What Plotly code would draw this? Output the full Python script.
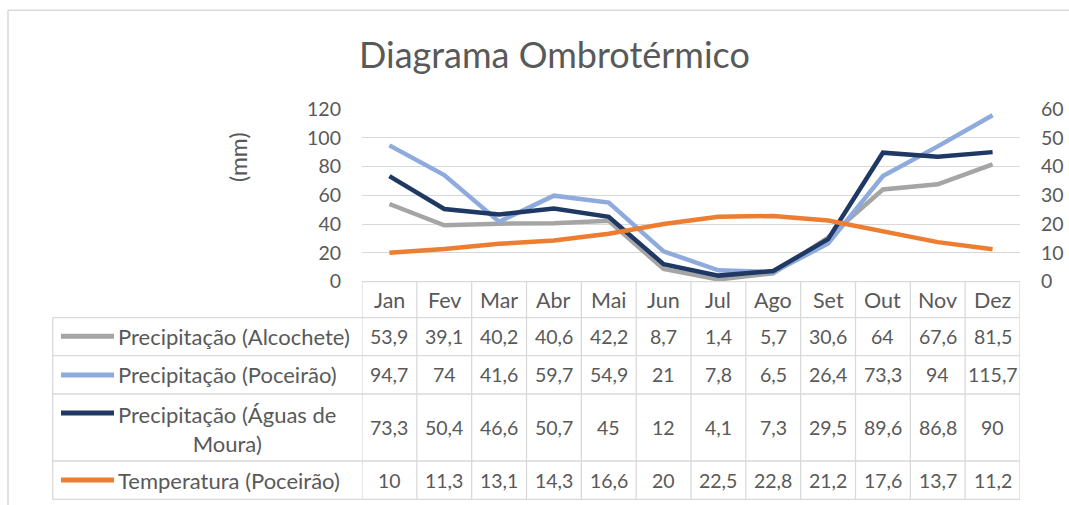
import plotly.graph_objects as go

months = ["Jan", "Fev", "Mar", "Abr", "Mai", "Jun", "Jul", "Ago", "Set", "Out", "Nov", "Dez"]
prec_alcochete = [53.9, 39.1, 40.2, 40.6, 42.2, 8.7, 1.4, 5.7, 30.6, 64, 67.6, 81.5]
prec_poceirao = [94.7, 74, 41.6, 59.7, 54.9, 21, 7.8, 6.5, 26.4, 73.3, 94, 115.7]
prec_aguas = [73.3, 50.4, 46.6, 50.7, 45, 12, 4.1, 7.3, 29.5, 89.6, 86.8, 90]
temp_poceirao = [10, 11.3, 13.1, 14.3, 16.6, 20, 22.5, 22.8, 21.2, 17.6, 13.7, 11.2]

series_names = ["Precipitação (Alcochete)", "Precipitação (Poceirão)",
                "Precipitação (Águas de<br>Moura)", "Temperatura (Poceirão)"]
series_values = [prec_alcochete, prec_poceirao, prec_aguas, temp_poceirao]
series_colors = ["#a5a5a5", "#8faadc", "#203864", "#ed7d31"]
series_axes = ["y", "y", "y", "y2"]

OFF = 0
W, H = 1069, 505
FONT = "Lato"
TXT = "#595959"
GRID = "#d9d9d9"
NUM_SIZE = 19.5
LBL_SIZE = 22


def fx(px):
    return (px - OFF) / W


def fy(py):
    return 1 - (py - OFF) / H


def fmt(v):
    return ("%g" % v).replace(".", ",")


plot_left, plot_right = 362, 1020
plot_top, plot_bottom = 109, 281.5

fig = go.Figure()
for name, vals, col, ax in zip(series_names, series_values, series_colors, series_axes):
    fig.add_trace(go.Scatter(x=months, y=vals, mode="lines", name=name.replace("<br>", " "),
                             line=dict(color=col, width=4.5), yaxis=ax, showlegend=False))

shapes = []
annotations = []

# chart border (top and left edges visible)
shapes.append(dict(type="line", xref="paper", yref="paper", x0=fx(8), x1=fx(1100),
                   y0=fy(10.3), y1=fy(10.3), line=dict(color=GRID, width=1.5)))
shapes.append(dict(type="line", xref="paper", yref="paper", x0=fx(8), x1=fx(8),
                   y0=fy(10.3), y1=fy(540), line=dict(color=GRID, width=1.5)))

# table geometry
row_edges = [281.7, 317.7, 355.7, 394, 461, 499.3]
table_left = 52.7
tb = dict(color=GRID, width=1.3)
shapes.append(dict(type="line", xref="paper", yref="paper", x0=fx(plot_left), x1=fx(plot_right),
                   y0=fy(row_edges[0]), y1=fy(row_edges[0]), line=tb))
for yy in row_edges[1:]:
    shapes.append(dict(type="line", xref="paper", yref="paper", x0=fx(table_left), x1=fx(plot_right),
                       y0=fy(yy), y1=fy(yy), line=tb))
shapes.append(dict(type="line", xref="paper", yref="paper", x0=fx(table_left), x1=fx(table_left),
                   y0=fy(row_edges[1]), y1=fy(row_edges[-1]), line=tb))
for k in range(len(months) + 1):
    shapes.append(dict(type="line", xref="x", yref="paper", x0=k - 0.5, x1=k - 0.5,
                       y0=fy(row_edges[0]), y1=fy(row_edges[-1]), line=tb))

# header row: months
hdr_y = (row_edges[0] + row_edges[1]) / 2
for m in months:
    annotations.append(dict(x=m, xref="x", y=fy(hdr_y), yref="paper", text=m, showarrow=False,
                            xanchor="center", yanchor="middle",
                            font=dict(family=FONT, size=LBL_SIZE - 0.5, color=TXT)))

# data rows
key_y = [336.2, 375, 413, 480]
label_y = [336.7, 374.9, 428.5, 480.2]
for r, (name, vals, col) in enumerate(zip(series_names, series_values, series_colors)):
    cy = (row_edges[r + 1] + row_edges[r + 2]) / 2
    for m, v in zip(months, vals):
        annotations.append(dict(x=m, xref="x", y=fy(cy), yref="paper", text=fmt(v), showarrow=False,
                                xanchor="center", yanchor="middle",
                                font=dict(family=FONT, size=NUM_SIZE, color=TXT)))
    shapes.append(dict(type="line", xref="paper", yref="paper", x0=fx(61), x1=fx(114),
                       y0=fy(key_y[r]), y1=fy(key_y[r]), line=dict(color=col, width=5)))
    annotations.append(dict(x=fx(116), xref="paper", y=fy(label_y[r]), yref="paper", text=name,
                            showarrow=False, xanchor="left", yanchor="middle", align="center",
                            font=dict(family=FONT, size=LBL_SIZE, color=TXT)))

# title
annotations.append(dict(x=fx(554), xref="paper", y=fy(54), yref="paper", text="Diagrama Ombrotérmico",
                        showarrow=False, xanchor="center", yanchor="middle",
                        font=dict(family=FONT, size=36, color=TXT)))
# y-axis title
annotations.append(dict(x=fx(238), xref="paper", y=fy(157), yref="paper", text="(mm)", textangle=-90,
                        showarrow=False, xanchor="center", yanchor="middle",
                        font=dict(family=FONT, size=23, color=TXT)))

fig.update_layout(
    width=W, height=H,
    margin=dict(l=0, r=0, t=0, b=0, autoexpand=False),
    paper_bgcolor="white", plot_bgcolor="white",
    showlegend=False,
    font=dict(family=FONT, color=TXT),
    xaxis=dict(type="category", domain=[fx(plot_left), fx(plot_right)], range=[-0.5, 11.5],
               showticklabels=False, showgrid=False, zeroline=False, showline=False, ticks="",
               automargin=False),
    yaxis=dict(domain=[fy(plot_bottom), fy(plot_top)], range=[0, 120], dtick=20,
               showgrid=True, gridcolor=GRID, gridwidth=1.3, zeroline=False, showline=False,
               ticks="", ticklabelstandoff=20, automargin=False,
               tickfont=dict(family=FONT, size=NUM_SIZE, color=TXT)),
    yaxis2=dict(domain=[fy(plot_bottom), fy(plot_top)], range=[0, 60], dtick=10, overlaying="y",
                side="right", anchor="x", showgrid=False, zeroline=False, showline=False,
                ticks="", ticklabelstandoff=20, automargin=False,
                tickfont=dict(family=FONT, size=NUM_SIZE, color=TXT)),
    shapes=shapes,
    annotations=annotations,
)

fig.write_html("out.html", config={"displayModeBar": False},
               post_script="document.body.style.margin='0px';document.body.style.overflow='hidden';")
